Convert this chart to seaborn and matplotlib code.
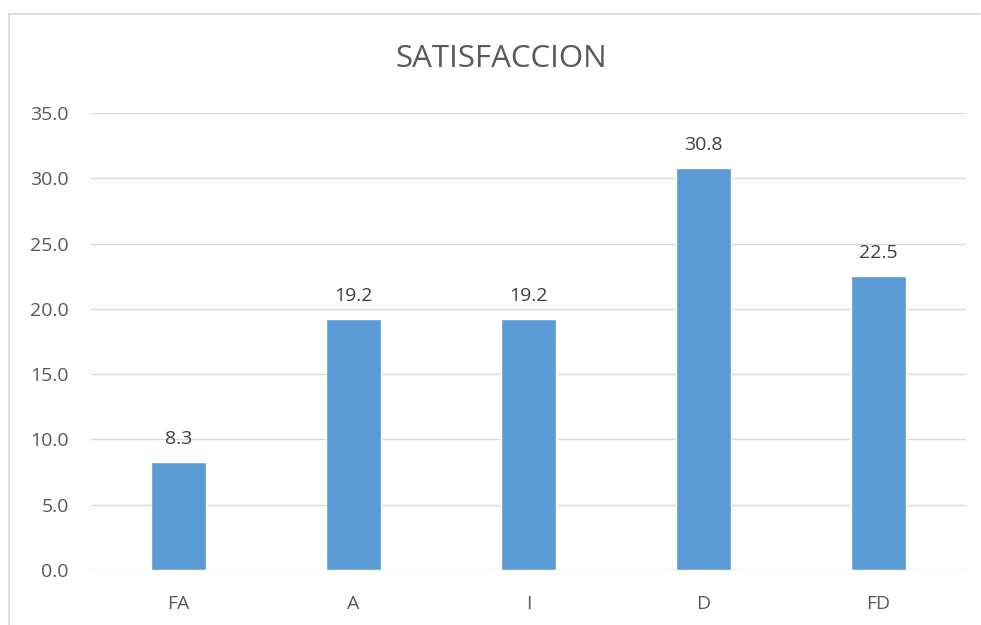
import matplotlib
matplotlib.use('Agg')
import matplotlib.pyplot as plt
import seaborn as sns
import pandas as pd

categories = ['FA', 'A', 'I', 'D', 'FD']
values = [8.3, 19.2, 19.2, 30.8, 22.5]

df = pd.DataFrame({'cat': categories, 'val': values})

sns.set_style('white')
plt.rcParams['font.family'] = ['Open Sans', 'DejaVu Sans']

fig = plt.figure(figsize=(9.81, 6.25), dpi=100)
ax = fig.add_axes([0.0928, 0.088, 0.892, 0.7312])

sns.barplot(data=df, x='cat', y='val', color='#5b9bd5', width=0.314,
            saturation=1, ax=ax)

ax.set_ylim(0, 35)
ax.set_yticks([0, 5, 10, 15, 20, 25, 30, 35])
ax.set_yticklabels([f'{v:.1f}' for v in ax.get_yticks()])
ax.grid(axis='y', color='#d9d9d9', linewidth=1)
ax.set_axisbelow(True)
for s in ax.spines.values():
    s.set_visible(False)
ax.tick_params(axis='both', length=0, labelsize=14, colors='#595959')
ax.tick_params(axis='x', pad=18)
ax.tick_params(axis='y', pad=16)
ax.set_xlabel('')
ax.set_ylabel('')

for p, v in zip(ax.patches, values):
    ax.annotate(f'{v:.1f}', (p.get_x() + p.get_width() / 2, v),
                xytext=(0, 10), textcoords='offset points',
                ha='center', va='bottom', fontsize=14, color='#404040')

fig.text(0.511, 0.905, 'SATISFACCION', ha='center', va='center',
         fontsize=22.5, color='#595959')

# chart border
fig.add_artist(plt.Line2D([9 / 981, 9 / 981], [0, 1 - 14 / 625],
                          color='#d9d9d9', linewidth=1.2, transform=fig.transFigure))
fig.add_artist(plt.Line2D([9 / 981, 980 / 981], [1 - 14 / 625, 1 - 14 / 625],
                          color='#d9d9d9', linewidth=1.2, transform=fig.transFigure))

fig.savefig('out.png', dpi=100)
